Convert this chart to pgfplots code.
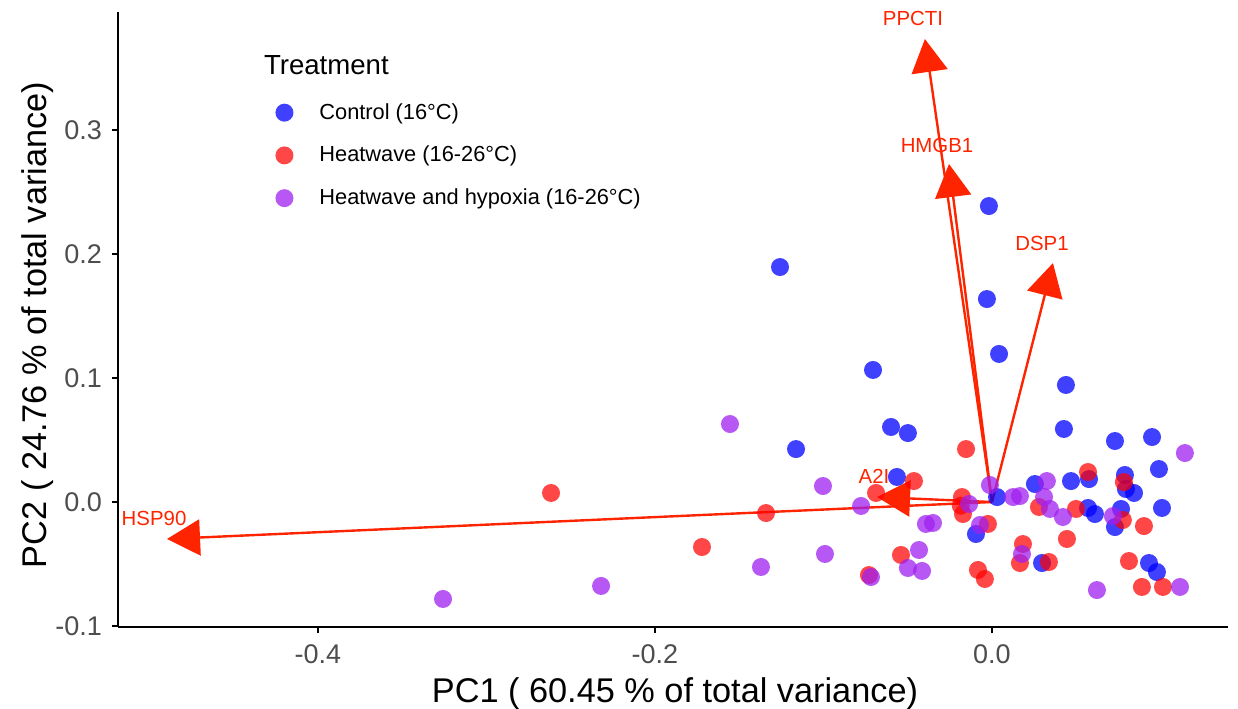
\documentclass[border=0pt]{standalone}
\usepackage{pgfplots}
\pgfplotsset{compat=1.18}
\usepackage{fontspec}
\setmainfont{Liberation Sans}
\usetikzlibrary{arrows.meta}
\definecolor{ctrl}{RGB}{0,0,255}
\definecolor{heat}{RGB}{255,0,0}
\definecolor{hyp}{RGB}{160,32,240}
\definecolor{arr}{RGB}{255,36,0}
\definecolor{tickgray}{RGB}{77,77,77}
\begin{document}
\begin{tikzpicture}
\useasboundingbox (0,0) rectangle (619bp,354.5bp);
\begin{axis}[
  at={(59bp,41bp)}, anchor=south west,
  scale only axis, width=555bp, height=307.5bp,
  xmin=-0.5187, xmax=0.1401, ymin=-0.1008, ymax=0.3952,
  axis lines=left, axis line style={-, line width=1bp},
  tick style={line width=1bp, black},
  tick align=outside, major tick length=3bp,
  xtick={-0.4,-0.2,0}, xticklabels={-0.4,-0.2,0.0},
  ytick={-0.1,0,0.1,0.2,0.3}, yticklabels={-0.1,0.0,0.1,0.2,0.3},
  ticklabel style={font=\fontsize{13.5bp}{16bp}\selectfont, text=tickgray},
  xticklabel style={yshift=-2.5bp},
  yticklabel style={xshift=-1.5bp},
  clip=false,
  xlabel={PC1 ( 60.45 \% of total variance)},
  ylabel={PC2 ( 24.76 \% of total variance)},
  label style={font=\fontsize{17.15bp}{20bp}\selectfont},
  xlabel style={at={(axis description cs:0.5018,-0.122)}, anchor=base},
  ylabel style={at={(axis description cs:-0.064,0.491)}, anchor=base, rotate=0},
  legend style={at={(axis description cs:0.1361,0.8652)}, anchor=north west, draw=none, fill=none,
    font=\fontsize{10.9bp}{13bp}\selectfont, row sep=8bp,
    /tikz/every odd column/.append style={column sep=11bp}},
  legend cell align=left,
]
% Control
\addplot[only marks, mark=*, mark size=4.5bp, mark options={ctrl, draw opacity=0, fill opacity=0.75}] coordinates {
(-0.1258,0.1895) (-0.0018,0.2387) (-0.0030,0.1637) (0.0042,0.1194) (-0.0706,0.1065)
(0.0439,0.0944) (-0.1163,0.0427) (-0.0599,0.0605) (-0.0499,0.0556) (0.0427,0.0589)
(0.0730,0.0492) (0.0950,0.0524) (0.0991,0.0266) (-0.0564,0.0202) (0.0255,0.0145)
(0.0469,0.0169) (0.0576,0.0185) (0.0789,0.0218) (0.0795,0.0105) (0.0843,0.0073)
(0.0030,0.0040) (0.0570,-0.0048) (0.0611,-0.0097) (0.0766,-0.0056) (0.0730,-0.0202)
(0.1009,-0.0048) (-0.0095,-0.0258) (0.0297,-0.0492) (0.0932,-0.0492) (0.0979,-0.0565)
};
\addlegendentry{Control (16°C)}
% Heatwave
\addplot[only marks, mark=*, mark size=4.5bp, mark options={heat, draw opacity=0, fill opacity=0.72}] coordinates {
(-0.2617,0.0073) (-0.1721,-0.0363) (-0.1341,-0.0089) (-0.0154,0.0427) (-0.0463,0.0169)
(-0.0688,0.0073) (-0.0178,0.0040) (-0.0185,-0.0030) (-0.0172,-0.0097) (-0.0024,-0.0177)
(-0.0540,-0.0427) (-0.0730,-0.0589) (-0.0083,-0.0548) (-0.0042,-0.0621) (0.0184,-0.0339)
(0.0166,-0.0492) (0.0338,-0.0484) (0.0279,-0.0040) (0.0499,-0.0056) (0.0445,-0.0298)
(0.0570,0.0242) (0.0783,0.0161) (0.0777,-0.0145) (0.0902,-0.0194) (0.0813,-0.0476)
(0.0890,-0.0685) (0.1015,-0.0685)
};
\addlegendentry{Heatwave (16-26°C)}
% Heatwave and hypoxia
\addplot[only marks, mark=*, mark size=4.5bp, mark options={hyp, draw opacity=0, fill opacity=0.75}] coordinates {
(-0.3258,-0.0782) (-0.2320,-0.0677) (-0.1555,0.0629) (-0.1003,0.0129) (-0.0991,-0.0419)
(-0.1371,-0.0524) (-0.0777,-0.0032) (-0.0718,-0.0605) (-0.0433,-0.0387) (-0.0499,-0.0532)
(-0.0415,-0.0556) (-0.0392,-0.0177) (-0.0350,-0.0169) (-0.0136,-0.0016) (-0.0071,-0.0185)
(-0.0012,0.0137) (0.0125,0.0040) (0.0166,0.0048) (0.0178,-0.0419) (0.0326,0.0169)
(0.0309,0.0040) (0.0344,-0.0056) (0.0421,-0.0121) (0.0718,-0.0113) (0.0623,-0.0710)
(0.1116,-0.0685) (0.1145,0.0395)
};
\addlegendentry{Heatwave and hypoxia (16-26°C)}
% loadings arrows
\pgfplotsset{arrstyle/.style={arr, line width=1.2bp, -{Triangle[length=16.5bp,width=18bp]}, forget plot}}
\addplot[arrstyle] coordinates {(0,0) (-0.0398,0.3734)};
\addplot[arrstyle] coordinates {(0,0) (-0.0255,0.2726)};
\addplot[arrstyle] coordinates {(0,0) (0.0362,0.1927)};
\addplot[arrstyle] coordinates {(0,0) (-0.0682,0.0040)};
\addplot[arrstyle] coordinates {(0,0) (-0.4896,-0.0298)};
\begin{scope}[every node/.style={text=arr, font=\fontsize{10.2bp}{12bp}\selectfont}]
\node at (axis cs:-0.0469,0.3903) {PPCTI};
\node at (axis cs:-0.0326,0.2879) {HMGB1};
\node at (axis cs:0.0297,0.2089) {DSP1};
\node at (axis cs:-0.0700,0.0210) {A2I};
\node at (axis cs:-0.4973,-0.0130) {HSP90};
\end{scope}
\node[anchor=west, font=\fontsize{13.8bp}{16bp}\selectfont] at (axis description cs:0.1252,0.914) {Treatment};
\end{axis}
\end{tikzpicture}
\end{document}
